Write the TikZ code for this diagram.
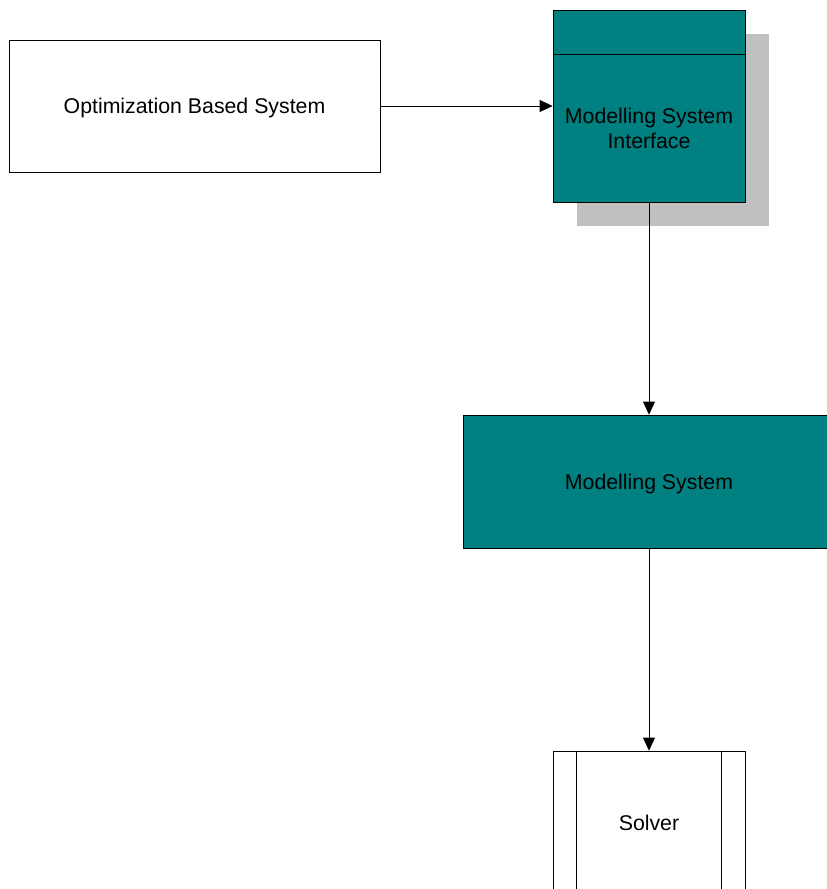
\documentclass[tikz,border=0pt]{standalone}
\usepackage{fontspec}
\setmainfont{Liberation Sans}
\usetikzlibrary{arrows.meta}
\definecolor{tealfill}{HTML}{008080}
\definecolor{shadowgray}{HTML}{C0C0C0}
\begin{document}
\begin{tikzpicture}[x=1pt,y=-1pt,
  box/.style={draw=black, line width=0.8pt, inner sep=0pt, align=center,
    text height=15pt, text depth=0pt,
    font=\fontsize{21.3}{24.5}\selectfont},
  plain/.style={inner sep=0pt, align=center, font=\fontsize{21.3}{24.5}\selectfont},
  flow/.style={draw=black, line width=0.8pt, -{Triangle[length=13pt,width=12pt]}},
]
\useasboundingbox (0,0) rectangle (827,889);
\clip (0,0) rectangle (827,889);

% client application
\node[box, fill=white, minimum width=371pt, minimum height=132pt] (obs)
  at (194.5,106) {Optimization Based System};

% interface package with its shadow and header band
\fill[shadowgray] (577,34) rectangle (769,226);
\node[box, fill=tealfill, minimum width=192pt, minimum height=192pt] (msi)
  at (649,106) {};
\draw[line width=0.8pt] ([yshift=-45pt]msi.north west) -- ([yshift=-45pt]msi.north east);
\node[plain] (msilabel) at (649,128.5) {Modelling System\\Interface};

% modelling system
\node[box, fill=tealfill, minimum width=372pt, minimum height=133pt] (ms)
  at (649,481.5) {Modelling System};

% solver (predefined process)
\node[box, fill=white, minimum width=192pt, minimum height=144pt] (solver)
  at (649,823) {Solver};
\draw[line width=0.8pt] ([xshift=24pt]solver.north west) -- ([xshift=24pt]solver.south west);
\draw[line width=0.8pt] ([xshift=-24pt]solver.north east) -- ([xshift=-24pt]solver.south east);

% connectors
\draw[flow] (obs.east) -- (msi.west);
\draw[flow] (msi.south) -- (ms.north);
\draw[flow] (ms.south) -- (solver.north);
\end{tikzpicture}
\end{document}
